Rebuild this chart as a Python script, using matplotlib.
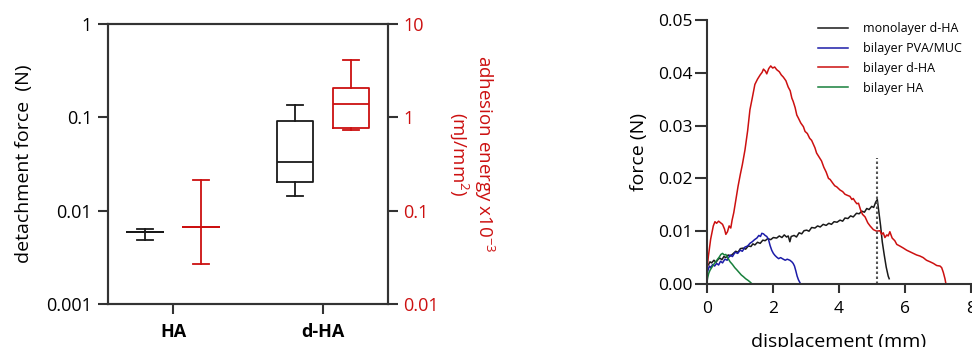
import numpy as np
import matplotlib
matplotlib.use('Agg')
import matplotlib.pyplot as plt
from matplotlib.ticker import NullLocator

plt.rcParams['font.family'] = ['Open Sans', 'DejaVu Sans']
plt.rcParams['mathtext.fontset'] = 'custom'
plt.rcParams['mathtext.rm'] = 'Open Sans'

# box plot summaries: detachment force (N) and adhesion energy (x10^-3 mJ/mm^2)
groups = ['HA', 'd-HA']
force_med = [0.0059, 0.0334]
force_q1 = [0.0059, 0.0204]
force_q3 = [0.0059, 0.0906]
force_lo = [0.0048, 0.0145]
force_hi = [0.0064, 0.137]

energy_med = [0.067, 1.38]
energy_q1 = [0.067, 0.76]
energy_q3 = [0.067, 2.05]
energy_lo = [0.027, 0.74]
energy_hi = [0.213, 4.12]

# force-displacement traces
mono_x = [0.00, 0.05, 0.10, 0.15, 0.22, 0.28, 0.35, 0.40, 0.46, 0.52, 0.58, 0.65, 0.72,
          0.81, 0.88, 0.95, 1.02, 1.11, 1.18, 1.26, 1.34, 1.40, 1.46, 1.54, 1.62, 1.70,
          1.77, 1.85, 1.94, 2.02, 2.12, 2.20, 2.28, 2.35, 2.42, 2.47, 2.52, 2.56, 2.65,
          2.72, 2.80, 2.88, 2.95, 3.03, 3.10, 3.18, 3.28, 3.36, 3.44, 3.53, 3.62, 3.70,
          3.78, 3.86, 3.95, 4.04, 4.12, 4.19, 4.28, 4.36, 4.44, 4.54, 4.62, 4.70, 4.78,
          4.85, 4.92, 5.00, 5.06, 5.12, 5.17, 5.22, 5.27, 5.32, 5.38, 5.44, 5.50, 5.53]
mono_y = [0.0039, 0.0036, 0.0042, 0.0040, 0.0045, 0.0041, 0.0047, 0.0049, 0.0046, 0.0052,
          0.0050, 0.0055, 0.0053, 0.0058, 0.0062, 0.0060, 0.0067, 0.0068, 0.0066, 0.0072,
          0.0071, 0.0076, 0.0074, 0.0079, 0.0077, 0.0083, 0.0082, 0.0086, 0.0084, 0.0088,
          0.0087, 0.0091, 0.0088, 0.0093, 0.0089, 0.0091, 0.0080, 0.0090, 0.0092, 0.0089,
          0.0097, 0.0095, 0.0101, 0.0102, 0.0100, 0.0107, 0.0106, 0.0110, 0.0108, 0.0113,
          0.0111, 0.0115, 0.0113, 0.0118, 0.0117, 0.0121, 0.0119, 0.0125, 0.0124, 0.0129,
          0.0127, 0.0134, 0.0133, 0.0138, 0.0136, 0.0143, 0.0141, 0.0147, 0.0145, 0.0155,
          0.0160, 0.0135, 0.0110, 0.0080, 0.0055, 0.0032, 0.0015, 0.0010]

pva_x = [0.00, 0.04, 0.08, 0.12, 0.18, 0.24, 0.30, 0.36, 0.42, 0.48, 0.55, 0.62, 0.71,
         0.78, 0.86, 0.94, 1.01, 1.08, 1.16, 1.24, 1.31, 1.38, 1.45, 1.52, 1.58, 1.63,
         1.67, 1.72, 1.77, 1.82, 1.87, 1.92, 1.97, 2.02, 2.07, 2.12, 2.18, 2.24, 2.32,
         2.38, 2.44, 2.52, 2.58, 2.62, 2.66, 2.70, 2.74, 2.78, 2.83]
pva_y = [0.0017, 0.0026, 0.0034, 0.0031, 0.0037, 0.0034, 0.0039, 0.0036, 0.0043, 0.0040,
         0.0047, 0.0045, 0.0055, 0.0052, 0.0060, 0.0058, 0.0064, 0.0062, 0.0070, 0.0072,
         0.0077, 0.0080, 0.0084, 0.0087, 0.0092, 0.0090, 0.0096, 0.0095, 0.0092, 0.0090,
         0.0085, 0.0073, 0.0064, 0.0058, 0.0054, 0.0051, 0.0048, 0.0050, 0.0047, 0.0045,
         0.0047, 0.0045, 0.0042, 0.0039, 0.0034, 0.0025, 0.0015, 0.0008, 0.0002]

dha_x = [0.00, 0.05, 0.12, 0.20, 0.25, 0.30, 0.36, 0.42, 0.48, 0.54, 0.58, 0.63, 0.68,
         0.73, 0.77, 0.82, 0.88, 0.95, 1.02, 1.08, 1.16, 1.24, 1.31, 1.38, 1.46, 1.54,
         1.62, 1.68, 1.72, 1.78, 1.82, 1.88, 1.94, 2.00, 2.06, 2.12, 2.20, 2.26, 2.32,
         2.40, 2.47, 2.53, 2.58, 2.62, 2.68, 2.73, 2.78, 2.85, 2.93, 2.98, 3.05, 3.12,
         3.18, 3.23, 3.28, 3.33, 3.40, 3.48, 3.55, 3.62, 3.69, 3.74, 3.82, 3.88, 3.94,
         4.04, 4.12, 4.19, 4.26, 4.34, 4.40, 4.44, 4.50, 4.55, 4.60, 4.66, 4.72, 4.80,
         4.88, 4.95, 5.05, 5.15, 5.25, 5.30, 5.35, 5.40, 5.46, 5.50, 5.55, 5.62, 5.70,
         5.76, 5.85, 5.96, 6.06, 6.16, 6.26, 6.36, 6.46, 6.56, 6.66, 6.77, 6.87, 6.97,
         7.07, 7.12, 7.17, 7.22, 7.25]
dha_y = [0.0021, 0.0052, 0.0085, 0.0110, 0.0118, 0.0115, 0.0119, 0.0116, 0.0113, 0.0104,
         0.0094, 0.0099, 0.0110, 0.0106, 0.0121, 0.0135, 0.0158, 0.0185, 0.0208, 0.0226,
         0.0254, 0.0290, 0.0330, 0.0352, 0.0378, 0.0388, 0.0396, 0.0401, 0.0407, 0.0403,
         0.0398, 0.0408, 0.0413, 0.0409, 0.0411, 0.0406, 0.0402, 0.0396, 0.0392, 0.0385,
         0.0373, 0.0366, 0.0352, 0.0346, 0.0334, 0.0320, 0.0314, 0.0305, 0.0298, 0.0289,
         0.0285, 0.0276, 0.0272, 0.0265, 0.0258, 0.0248, 0.0241, 0.0233, 0.0221, 0.0212,
         0.0200, 0.0198, 0.0191, 0.0186, 0.0184, 0.0178, 0.0175, 0.0170, 0.0168, 0.0166,
         0.0160, 0.0162, 0.0156, 0.0152, 0.0153, 0.0141, 0.0132, 0.0127, 0.0116, 0.0110,
         0.0103, 0.0100, 0.0101, 0.0094, 0.0097, 0.0088, 0.0093, 0.0091, 0.0099, 0.0087,
         0.0082, 0.0075, 0.0072, 0.0068, 0.0064, 0.0061, 0.0058, 0.0055, 0.0053, 0.0050,
         0.0045, 0.0042, 0.0039, 0.0035, 0.0034, 0.0031, 0.0022, 0.0010, 0.0000]

ha_x = [0.00, 0.03, 0.06, 0.10, 0.15, 0.20, 0.26, 0.32, 0.38, 0.43, 0.48, 0.53, 0.58,
        0.64, 0.71, 0.78, 0.85, 0.91, 0.98, 1.05, 1.11, 1.18, 1.25, 1.31, 1.36]
ha_y = [0.0001, 0.0012, 0.0020, 0.0026, 0.0031, 0.0036, 0.0041, 0.0046, 0.0051, 0.0056,
        0.0058, 0.0055, 0.0056, 0.0049, 0.0042, 0.0037, 0.0031, 0.0027, 0.0022, 0.0017,
        0.0014, 0.0010, 0.0007, 0.0004, 0.0001]

# detachment point of the monolayer
detach_x = 5.17
detach_top = 0.0238

AX_COL = '#333333'
RED = '#cc1010'
BLACK = '#1a1a1a'
BLUE = '#1c1ca8'
GREEN = '#18803c'

fig = plt.figure(figsize=(9.72, 3.47), dpi=100)
W, H = 972, 347

# ---- left: box plots on two log axes ----
ax = fig.add_axes([108 / W, 43 / H, 280 / W, 280 / H])
ax2 = ax.twinx()

pos = np.arange(len(groups))
off = 0.187


def stats(med, q1, q3, lo, hi):
    return [dict(med=m, q1=a, q3=b, whislo=l, whishi=h)
            for m, a, b, l, h in zip(med, q1, q3, lo, hi)]


def draw_boxes(axis, st, xs, color):
    props = dict(color=color, linewidth=1.3)
    axis.bxp(st, positions=xs, widths=0.235, capwidths=0.11, showfliers=False,
             manage_ticks=False, boxprops=props, medianprops=props,
             whiskerprops=props, capprops=props)


draw_boxes(ax, stats(force_med, force_q1, force_q3, force_lo, force_hi), pos - off, BLACK)
draw_boxes(ax2, stats(energy_med, energy_q1, energy_q3, energy_lo, energy_hi), pos + off, RED)

for a, lim in ((ax, (0.001, 1)), (ax2, (0.01, 10))):
    a.set_yscale('log')
    a.set_ylim(*lim)
    a.yaxis.set_minor_locator(NullLocator())
    for s in a.spines.values():
        s.set_color(AX_COL)
        s.set_linewidth(1.5)
ax.set_xlim(-0.433, 1.433)

ax.set_yticks([0.001, 0.01, 0.1, 1])
ax.set_yticklabels(['0.001', '0.01', '0.1', '1'])
ax2.set_yticks([0.01, 0.1, 1, 10])
ax2.set_yticklabels(['0.01', '0.1', '1', '10'])
ax.set_xticks(pos)
ax.set_xticklabels(groups, fontweight='bold')

ax.tick_params(axis='y', direction='out', length=7.5, width=1.5, color=AX_COL,
               labelsize=13, pad=4)
ax.tick_params(axis='x', direction='out', length=7, width=1.5, color=AX_COL,
               labelsize=13, pad=7)
ax2.tick_params(axis='y', direction='out', length=7, width=1.5, color=AX_COL,
                labelsize=13, labelcolor=RED, pad=4)

ax.set_ylabel('detachment force  (N)', fontsize=14)
ax.yaxis.set_label_coords(-0.268, 0.5)

fig.text(472 / W, 1 - 55 / H, 'adhesion energy x10$^{-3}$\n(mJ/mm$^2$)', color=RED,
         fontsize=13.5, rotation=270, ha='center', va='top', multialignment='center',
         linespacing=1.1)

# ---- right: force vs displacement ----
bx = fig.add_axes([706.7 / W, 63 / H, 264 / W, 264 / H])
bx.plot(mono_x, mono_y, color=BLACK, lw=1.1, label='monolayer d-HA')
bx.plot(pva_x, pva_y, color=BLUE, lw=1.1, label='bilayer PVA/MUC')
bx.plot(dha_x, dha_y, color=RED, lw=1.1, label='bilayer d-HA')
bx.plot(ha_x, ha_y, color=GREEN, lw=1.1, label='bilayer HA')
bx.plot([detach_x, detach_x], [0, detach_top], color='#555555', lw=1.5,
        linestyle=(0, (1.2, 1.2)))

bx.set_xlim(0, 8)
bx.set_ylim(0, 0.05)
bx.set_xticks([0, 2, 4, 6, 8])
bx.set_yticks([0, 0.01, 0.02, 0.03, 0.04, 0.05])
bx.set_yticklabels(['0.00', '0.01', '0.02', '0.03', '0.04', '0.05'])
for side in ('top', 'right'):
    bx.spines[side].set_visible(False)
for side in ('left', 'bottom'):
    bx.spines[side].set_color(AX_COL)
    bx.spines[side].set_linewidth(1.5)
bx.tick_params(axis='y', direction='out', length=8.5, width=1.5, color=AX_COL,
               labelsize=12.5, pad=1.5)
bx.tick_params(axis='x', direction='out', length=6.5, width=1.5, color=AX_COL,
               labelsize=12.5, pad=6)
bx.set_xlabel('displacement (mm)', fontsize=14)
bx.xaxis.set_label_coords(0.5, -0.185)
bx.set_ylabel('force (N)', fontsize=14)
bx.yaxis.set_label_coords(-0.222, 0.5)

bx.legend(loc='upper left', bbox_to_anchor=(818 / W, 1 - 22 / H),
          bbox_transform=fig.transFigure, frameon=False, fontsize=9,
          handlelength=2.4, handletextpad=1.2, labelspacing=0.55, borderpad=0,
          borderaxespad=0)

fig.savefig('out.png', dpi=100)
